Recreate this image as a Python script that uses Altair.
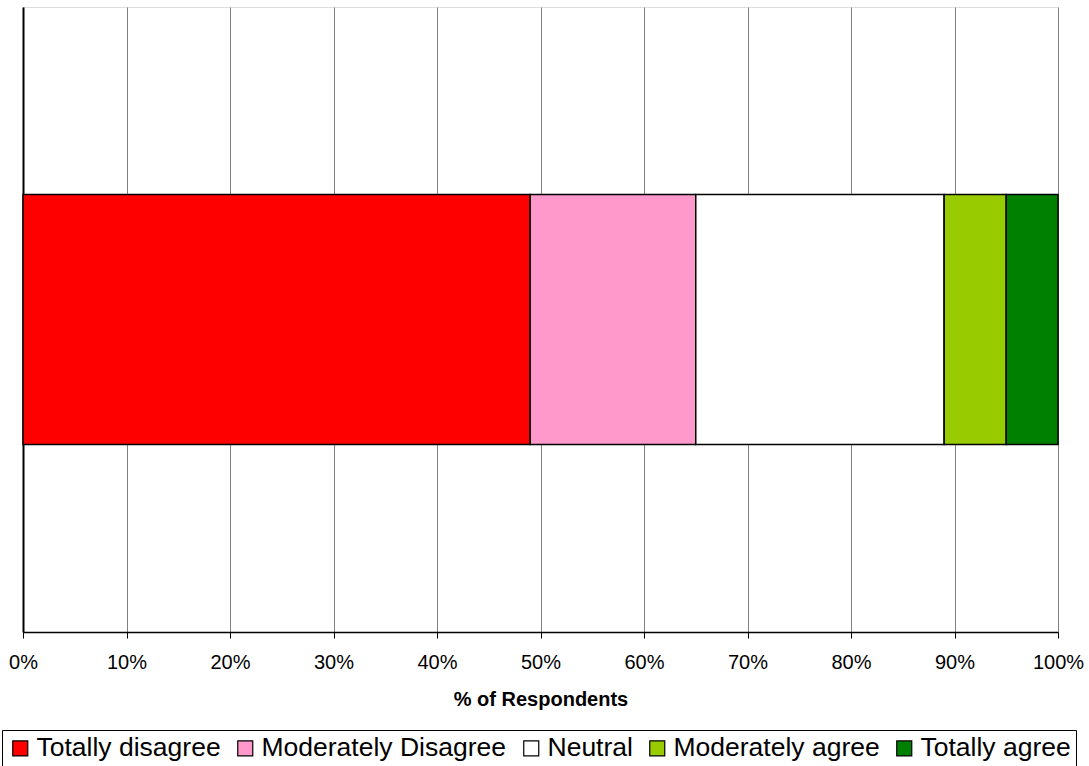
import altair as alt
import pandas as pd

# Survey response shares for a single statement (percent of respondents)
categories = ["Totally disagree", "Moderately Disagree", "Neutral", "Moderately agree", "Totally agree"]
shares = [49, 16, 24, 6, 5]
colors = ["#FF0000", "#FF99CC", "#FFFFFF", "#99CC00", "#008000"]
tick_values = [0, 10, 20, 30, 40, 50, 60, 70, 80, 90, 100]

df = pd.DataFrame({
    "question": ["Q"] * len(categories),
    "response": categories,
    "share": shares,
    "order": list(range(len(categories))),
})

font = "Liberation Sans"

bars = alt.Chart(df).mark_bar(
    stroke="black", strokeWidth=1.5, height=alt.RelativeBandSize(band=0.4)
).encode(
    x=alt.X(
        "share:Q",
        stack="zero",
        scale=alt.Scale(domain=[0, 100], nice=False),
        axis=alt.Axis(
            values=tick_values,
            labelExpr="datum.value + '%'",
            labelFlush=False,
            title="% of Respondents",
            titleFont=font, titleFontSize=20, titleFontWeight="bold", titleColor="black",
            titlePadding=17,
            labelFont=font, labelFontSize=20, labelColor="black", labelPadding=14,
            domainColor="black", domainWidth=1.5,
            tickColor="black", tickSize=6,
            grid=True, gridColor="#808080", gridWidth=1,
        ),
    ),
    y=alt.Y(
        "question:N",
        scale=alt.Scale(paddingInner=0, paddingOuter=0),
        axis=alt.Axis(labels=False, ticks=False, title=None, grid=False,
                      domainColor="black", domainWidth=2),
    ),
    color=alt.Color(
        "response:N",
        sort=categories,
        scale=alt.Scale(domain=categories, range=colors),
        legend=alt.Legend(
            title=None,
            orient="none", legendX=-21, legendY=723,
            direction="horizontal", columns=5,
            symbolType="square", symbolSize=225,
            symbolStrokeColor="black", symbolStrokeWidth=1.2,
            labelFont=font, labelFontSize=26.5, labelColor="black",
            labelOffset=3, columnPadding=11,
            strokeColor="black", padding=5,
            labelLimit=400,
        ),
    ),
    order=alt.Order("order:Q", sort="ascending"),
)

chart = bars.properties(
    width=1035, height=625,
    autosize=alt.AutoSizeParams(type="none"),
    padding={"left": 23, "top": 7, "right": 31, "bottom": 134},
).configure_view(
    stroke="#808080", strokeWidth=1
).configure(background="white")

chart.save("out.html", embed_options={"renderer": "svg", "actions": False})
